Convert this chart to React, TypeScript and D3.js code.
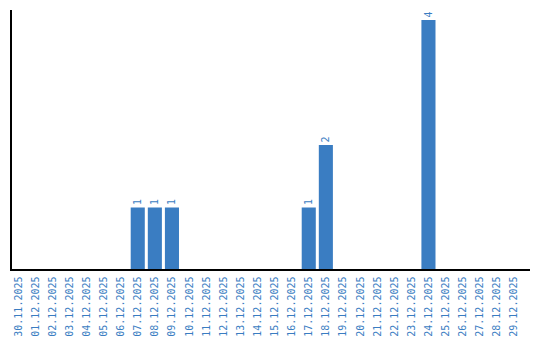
import React from "react";
import * as d3 from "d3";

const dates = [
  "30.11.2025","01.12.2025","02.12.2025","03.12.2025","04.12.2025","05.12.2025",
  "06.12.2025","07.12.2025","08.12.2025","09.12.2025","10.12.2025","11.12.2025",
  "12.12.2025","13.12.2025","14.12.2025","15.12.2025","16.12.2025","17.12.2025",
  "18.12.2025","19.12.2025","20.12.2025","21.12.2025","22.12.2025","23.12.2025",
  "24.12.2025","25.12.2025","26.12.2025","27.12.2025","28.12.2025","29.12.2025",
];
const values = [0,0,0,0,0,0,0,1,1,1,0,0,0,0,0,0,0,1,2,0,0,0,0,0,4,0,0,0,0,0];

const BLUE = "#3a7dc2";

export default function App() {
  const W = 540, H = 340;
  const left = 11, top = 10, bottom = 270, axisRight = 530;
  const x = d3.scaleBand<string>().domain(dates).range([left, left + 17 * dates.length]).paddingInner(3 / 17).paddingOuter(0);
  const maxV = d3.max(values) as number;
  const y = d3.scaleLinear().domain([0, maxV * 1.04]).range([bottom, top]);
  const font = "'DejaVu Sans Mono', monospace";
  return (
    <svg width={W} height={H} style={{ position: "absolute", left: 0, top: 0, background: "#fff" }}>
      {values.map((v, i) =>
        v > 0 ? (
          <g key={i}>
            <rect x={x(dates[i])} y={y(v)} width={x.bandwidth()} height={bottom - y(v)} fill={BLUE} />
            <text
              transform={`translate(${(x(dates[i]) as number) + x.bandwidth() / 2},${y(v) - 2.5}) rotate(-90)`}
              dy="0.35em" textAnchor="start" fontSize={10} fontFamily={font} fill={BLUE}
            >{v}</text>
          </g>
        ) : null
      )}
      <line x1={left} x2={left} y1={top} y2={bottom} stroke="#000" strokeWidth={2} />
      <line x1={left - 1} x2={axisRight} y1={bottom} y2={bottom} stroke="#000" strokeWidth={2} />
      {dates.map((d) => (
        <text key={d}
          transform={`translate(${(x(d) as number) + x.bandwidth() / 2},276.5) rotate(-90)`}
          dy="0.35em" textAnchor="end" fontSize={10} fontFamily={font} fill={BLUE}
        >{d}</text>
      ))}
    </svg>
  );
}
